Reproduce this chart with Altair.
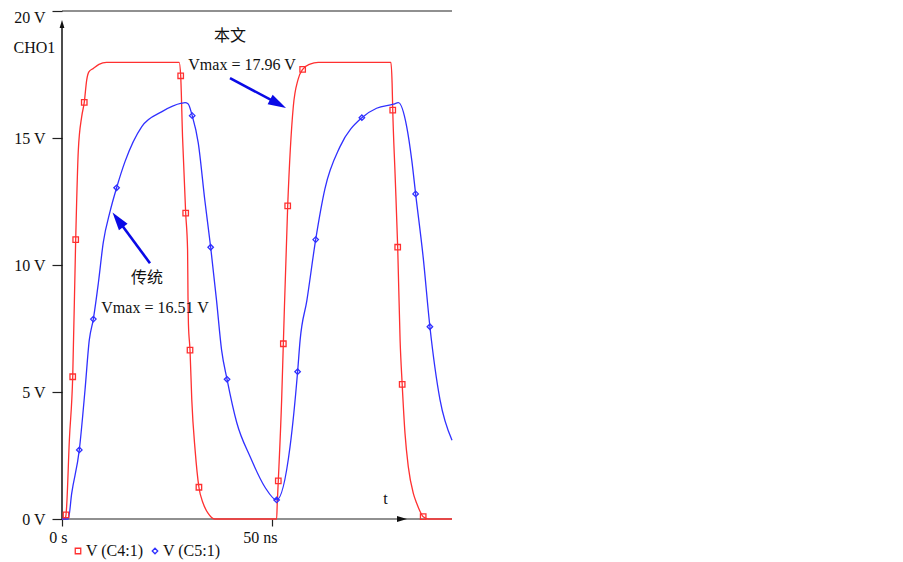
import altair as alt
import pandas as pd

X_MAX = 92.86
Y_MAX = 20

# ---- V(C4:1) (red) curve, ns / V
red_t = [0.0, 0.7, 0.95, 1.1, 1.75, 2.55, 3.26, 3.88, 4.69, 5.3, 5.88, 6.4, 7.45, 8.8, 10.6,
         27.9, 28.26, 28.7, 29.45, 29.9, 30.0, 30.1, 30.48, 30.9, 31.7, 32.6, 33.6, 34.8, 36.4,
         51.1, 51.25, 51.5, 52.3, 52.7, 53.74, 55.07, 56.2, 57.3, 59.05, 61.0,
         78.3, 78.6, 78.75, 79.3, 79.93, 80.5, 81.0, 81.67, 82.45, 83.65, 84.45, 86.0, 87.2, 92.86]
red_v = [0.0, 0.0, 0.16, 0.48, 3.1, 5.6, 11.0, 14.5, 15.84, 16.4, 17.28, 17.6, 17.74, 17.9, 17.98,
         17.98, 17.45, 15.05, 12.04, 10.6, 8.75, 7.7, 6.65, 4.7, 2.7, 1.25, 0.62, 0.22, 0.0,
         0.0, 0.6, 1.5, 4.7, 6.9, 12.33, 16.23, 17.3, 17.7, 17.91, 17.98,
         17.98, 17.15, 16.1, 13.6, 10.7, 7.05, 5.3, 3.37, 2.06, 1.01, 0.62, 0.09, 0.0, 0.0]
red_mark_t = [0.95, 2.55, 3.26, 5.3, 28.26, 29.45, 30.48, 32.6, 51.5, 52.7, 53.74, 57.3, 78.75, 79.93, 81.0, 86.0]
red_mark_v = [0.16, 5.6, 11.0, 16.4, 17.45, 12.04, 6.65, 1.25, 1.5, 6.9, 12.33, 17.7, 16.1, 10.7, 5.3, 0.09]

# ---- V(C5:1) (blue) curve
blue_t = [0.0, 1.5, 2.3, 4.12, 5.48, 6.5, 7.46, 8.65, 9.84, 11.43, 13.0, 15.0, 19.0, 23.7, 28.5, 29.3,
          30.0, 31.0, 32.45, 34.0, 35.4, 36.8, 38.0, 39.3, 41.6, 44.8, 48.3, 51.1, 54.3, 56.1, 56.7,
          58.3, 60.4, 62.6, 66.2, 71.4, 74.9, 78.9, 80.1, 82.07, 83.3, 84.2, 86.0, 87.6, 90.0, 92.86]
blue_v = [0.0, 0.0, 1.0, 2.72, 5.08, 7.05, 7.87, 9.28, 10.9, 12.1, 13.04, 14.07, 15.45, 16.03, 16.37, 16.39,
          16.35, 15.88, 14.8, 12.56, 10.7, 8.6, 6.65, 5.5, 3.8, 2.45, 1.26, 0.75, 2.85, 5.8, 7.05,
          8.6, 11.0, 13.0, 14.66, 15.8, 16.17, 16.33, 16.39, 15.45, 14.1, 12.8, 10.3, 7.57, 4.7, 3.1]
blue_mark_t = [4.12, 7.46, 13.0, 31.0, 35.4, 39.3, 51.1, 56.1, 60.4, 71.4, 84.2, 87.6]
blue_mark_v = [2.72, 7.87, 13.04, 15.88, 10.7, 5.5, 0.75, 5.8, 11.0, 15.8, 12.8, 7.57]

series_names = ["V (C4:1)", "V (C5:1)"]
series_colors = ["#ff3030", "#3030ff"]
series_shapes = ["square", "diamond"]

y_ticks = [0, 5, 10, 15, 20]
y_tick_labels = ["0 V", "5 V", "10 V", "15 V", "20 V"]
x_ticks = [0, 50]
x_tick_labels = ["0 s", "50 ns"]

# annotations
ann_text = ["本文", "Vmax = 17.96 V", "传统", "Vmax = 16.51 V"]
ann_t = [40.0, 42.86, 20.24, 22.14]
ann_v = [19.02, 17.87, 9.49, 8.31]

# annotation arrows: tail -> head centre, head angle
arrow_t0 = [40.0, 20.95]
arrow_v0 = [17.36, 10.07]
arrow_t1 = [51.45, 13.31]
arrow_v1 = [16.35, 11.78]
arrow_angle = [117.9, 323.4]

FONT = "Liberation Serif, Times New Roman, Noto Sans CJK SC"
HEAD = "M0,-1L0.6,1L-0.6,1Z"

xscale = alt.Scale(domain=[0, X_MAX], nice=False, zero=False)
yscale = alt.Scale(domain=[0, Y_MAX], nice=False)


def lab_expr(vals, labs):
    parts = " : ".join([f"datum.value == {v} ? '{l}'" for v, l in zip(vals, labs)])
    return parts + " : ''"


xaxis = alt.Axis(values=x_ticks, labelExpr=lab_expr(x_ticks, x_tick_labels), domain=False, grid=False,
                 tickSize=7, tickColor="#222", tickWidth=1.2, labelAlign="right", labelOffset=5,
                 labelPadding=3, labelFont=FONT, labelFontSize=16, labelColor="#111",
                 title="t", titleFont=FONT, titleFontSize=16, titleFontWeight="normal", titleColor="#111",
                 titleX=323, titleY=-21, titleAngle=0, titleBaseline="middle", titleAlign="center")
yaxis = alt.Axis(values=y_ticks, labelExpr=lab_expr(y_ticks, y_tick_labels), domain=False, grid=False,
                 tickSize=10, tickColor="#222", tickWidth=1.2, labelPadding=7, labelFont=FONT, labelFontSize=16,
                 labelOffset={"condition": {"test": f"datum.value == {Y_MAX}", "value": 6}, "value": 0},
                 labelColor="#111", title="CHO1", titleFont=FONT, titleFontSize=16, titleFontWeight="normal",
                 titleColor="#111", titleAngle=0, titleX=-49, titleY=36, titleAlign="left", titleBaseline="middle")


def X(f):
    return alt.X(f, scale=xscale, axis=xaxis)


def Y(f):
    return alt.Y(f, scale=yscale, axis=yaxis)


# frame lines at 0 V and 20 V
frame_df = pd.DataFrame({"t": [0, 0], "t2": [X_MAX, X_MAX], "v": [0, Y_MAX]})
frame = alt.Chart(frame_df).mark_rule(color="#222", strokeWidth=1.2).encode(
    x=X("t:Q"), x2="t2:Q", y=Y("v:Q"))

# vertical axis arrow
yaxis_df = pd.DataFrame({"t": [0], "v": [0], "v2": [19.4]})
yshaft = alt.Chart(yaxis_df).mark_rule(color="#111", strokeWidth=1.5).encode(
    x=X("t:Q"), y=Y("v:Q"), y2="v2:Q")
heads_df = pd.DataFrame({"t": [0, 80.95], "v": [19.49, 0], "a": [0, 90], "s": [64, 100]})
axis_heads = alt.Chart(heads_df).mark_point(shape=HEAD, filled=True, color="#111", opacity=1, strokeWidth=0).encode(
    x=X("t:Q"), y=Y("v:Q"),
    angle=alt.Angle("a:Q", scale=None), size=alt.Size("s:Q", scale=None))

red_df = pd.DataFrame({"t": red_t, "v": red_v, "o": range(len(red_t))})
blue_df = pd.DataFrame({"t": blue_t, "v": blue_v, "o": range(len(blue_t))})
red_line = alt.Chart(red_df).mark_line(strokeWidth=1.3, color=series_colors[0], interpolate="monotone").encode(
    x=X("t:Q"), y=Y("v:Q"), order="o:Q")
blue_line = alt.Chart(blue_df).mark_line(strokeWidth=1.3, color=series_colors[1], interpolate="monotone").encode(
    x=X("t:Q"), y=Y("v:Q"), order="o:Q")

mark_df = pd.concat([
    pd.DataFrame({"t": red_mark_t, "v": red_mark_v, "series": series_names[0]}),
    pd.DataFrame({"t": blue_mark_t, "v": blue_mark_v, "series": series_names[1]}),
])
legend = alt.Legend(title=None, orient="none", direction="horizontal", legendX=8, legendY=532,
                    labelFont=FONT, labelFontSize=16, labelColor="#111", symbolSize=30,
                    symbolStrokeWidth=1.3, labelOffset=0, columnPadding=3, padding=0)
markers = alt.Chart(mark_df).mark_point(filled=False, size=30, strokeWidth=1.3, opacity=1).encode(
    x=X("t:Q"), y=Y("v:Q"),
    color=alt.Color("series:N", scale=alt.Scale(domain=series_names, range=series_colors), legend=legend),
    shape=alt.Shape("series:N", scale=alt.Scale(domain=series_names, range=series_shapes), legend=legend))

arr_df = pd.DataFrame({"t0": arrow_t0, "v0": arrow_v0, "t1": arrow_t1, "v1": arrow_v1, "a": arrow_angle})
shafts = alt.Chart(arr_df).mark_rule(color="#0a0ae6", strokeWidth=2.6).encode(
    x=X("t0:Q"), y=Y("v0:Q"), x2="t1:Q", y2="v1:Q")
arr_heads = alt.Chart(arr_df).mark_point(shape=HEAD, filled=True, color="#0a0ae6", opacity=1, size=324,
                                         strokeWidth=0).encode(
    x=X("t1:Q"), y=Y("v1:Q"), angle=alt.Angle("a:Q", scale=None))

ann_df = pd.DataFrame({"t": ann_t, "v": ann_v, "txt": ann_text})
texts = alt.Chart(ann_df).mark_text(font=FONT, fontSize=16, color="#111", align="center", baseline="middle").encode(
    x=X("t:Q"), y=Y("v:Q"), text="txt:N")

chart = alt.layer(frame, yshaft, axis_heads, red_line, blue_line, markers, shafts, arr_heads, texts).properties(
    width=390, height=508,
    background="white",
    autosize=alt.AutoSizeParams(type="none"),
    padding={"left": 54, "top": 3, "right": 440, "bottom": 46},
).configure_view(stroke=None)

chart.save("out.html", embed_options={"renderer": "svg", "actions": False})
